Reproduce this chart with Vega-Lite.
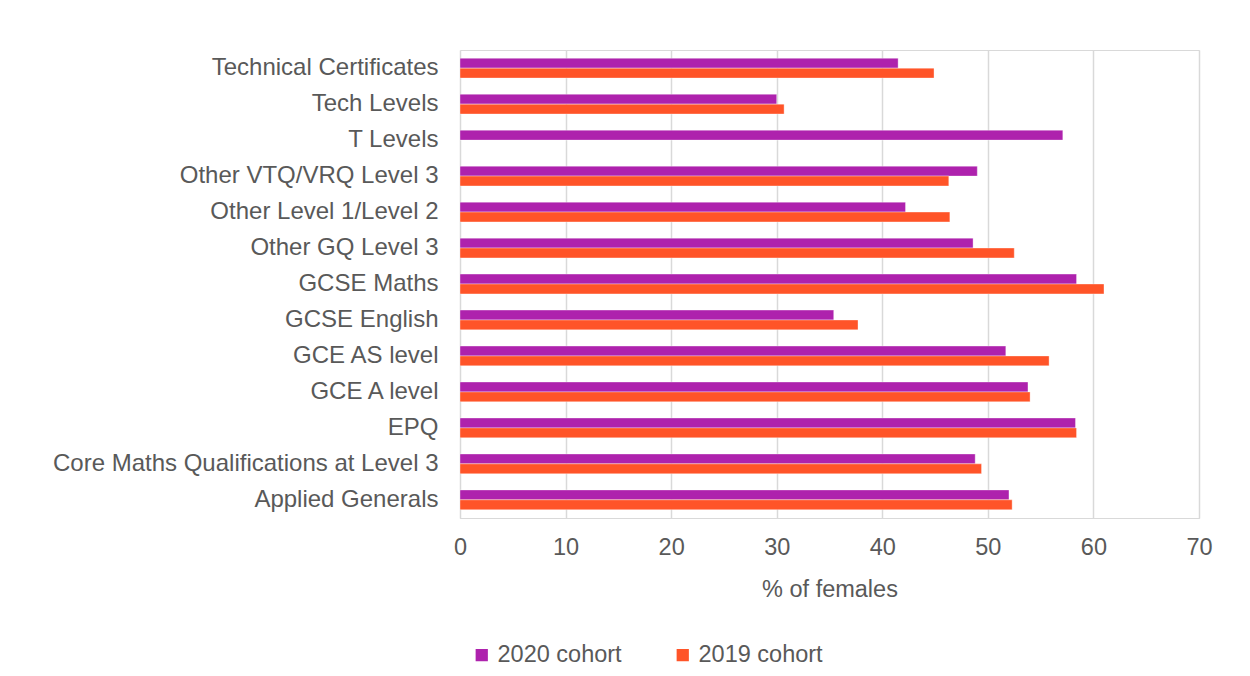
{
  "$schema": "https://vega.github.io/schema/vega-lite/v6.json",
  "width": 739,
  "height": 468,
  "autosize": {"type": "none"},
  "padding": {"left": 460, "top": 50, "right": 51, "bottom": 158},
  "background": "white",
  "config": {
    "view": {"stroke": "#d9d9d9", "strokeWidth": 1},
    "font": "Liberation Sans"
  },
  "data": {
    "values": [
      {"qual": "Technical Certificates", "cohort": "2020 cohort", "pct": 41.5},
      {"qual": "Technical Certificates", "cohort": "2019 cohort", "pct": 44.9},
      {"qual": "Tech Levels", "cohort": "2020 cohort", "pct": 30.0},
      {"qual": "Tech Levels", "cohort": "2019 cohort", "pct": 30.7},
      {"qual": "T Levels", "cohort": "2020 cohort", "pct": 57.1},
      {"qual": "Other VTQ/VRQ Level 3", "cohort": "2020 cohort", "pct": 49.0},
      {"qual": "Other VTQ/VRQ Level 3", "cohort": "2019 cohort", "pct": 46.3},
      {"qual": "Other Level 1/Level 2", "cohort": "2020 cohort", "pct": 42.2},
      {"qual": "Other Level 1/Level 2", "cohort": "2019 cohort", "pct": 46.4},
      {"qual": "Other GQ Level 3", "cohort": "2020 cohort", "pct": 48.6},
      {"qual": "Other GQ Level 3", "cohort": "2019 cohort", "pct": 52.5},
      {"qual": "GCSE Maths", "cohort": "2020 cohort", "pct": 58.4},
      {"qual": "GCSE Maths", "cohort": "2019 cohort", "pct": 61.0},
      {"qual": "GCSE English", "cohort": "2020 cohort", "pct": 35.4},
      {"qual": "GCSE English", "cohort": "2019 cohort", "pct": 37.7},
      {"qual": "GCE AS level", "cohort": "2020 cohort", "pct": 51.7},
      {"qual": "GCE AS level", "cohort": "2019 cohort", "pct": 55.8},
      {"qual": "GCE A level", "cohort": "2020 cohort", "pct": 53.8},
      {"qual": "GCE A level", "cohort": "2019 cohort", "pct": 54.0},
      {"qual": "EPQ", "cohort": "2020 cohort", "pct": 58.3},
      {"qual": "EPQ", "cohort": "2019 cohort", "pct": 58.4},
      {"qual": "Core Maths Qualifications at Level 3", "cohort": "2020 cohort", "pct": 48.8},
      {"qual": "Core Maths Qualifications at Level 3", "cohort": "2019 cohort", "pct": 49.4},
      {"qual": "Applied Generals", "cohort": "2020 cohort", "pct": 52.0},
      {"qual": "Applied Generals", "cohort": "2019 cohort", "pct": 52.3}
    ]
  },
  "mark": {"type": "bar", "stroke": "#ffffff", "strokeOpacity": 0.35, "strokeWidth": 1},
  "encoding": {
    "y": {
      "field": "qual",
      "type": "nominal",
      "sort": ["Technical Certificates", "Tech Levels", "T Levels", "Other VTQ/VRQ Level 3", "Other Level 1/Level 2", "Other GQ Level 3", "GCSE Maths", "GCSE English", "GCE AS level", "GCE A level", "EPQ", "Core Maths Qualifications at Level 3", "Applied Generals"],
      "scale": {"paddingInner": 0.45, "paddingOuter": 0.23},
      "axis": {
        "title": null,
        "ticks": false,
        "domain": false,
        "labelFontSize": 24,
        "labelColor": "#595959",
        "labelPadding": 22,
        "labelLimit": 600
      }
    },
    "yOffset": {
      "field": "cohort",
      "type": "nominal",
      "sort": ["2020 cohort", "2019 cohort"]
    },
    "x": {
      "field": "pct",
      "type": "quantitative",
      "scale": {"domain": [0, 70], "nice": false},
      "axis": {
        "title": "% of females",
        "titleFontSize": 23.5,
        "titleFontWeight": "normal",
        "titleColor": "#595959",
        "titlePadding": 19,
        "values": [0, 10, 20, 30, 40, 50, 60, 70],
        "ticks": false,
        "labelFlush": false,
        "domainColor": "#d9d9d9",
        "gridColor": "#d9d9d9",
        "gridWidth": 1.5,
        "labelFontSize": 23.5,
        "labelColor": "#595959",
        "labelPadding": 17
      }
    },
    "color": {
      "field": "cohort",
      "type": "nominal",
      "scale": {"domain": ["2020 cohort", "2019 cohort"], "range": ["#AE22AD", "#FF5428"]},
      "legend": {
        "title": null,
        "orient": "none",
        "direction": "horizontal",
        "legendX": 10,
        "legendY": 593,
        "symbolType": "square",
        "symbolSize": 150,
        "symbolStrokeWidth": 0,
        "labelFontSize": 23.5,
        "labelColor": "#595959",
        "labelOffset": 4,
        "columnPadding": 49
      }
    }
  }
}
